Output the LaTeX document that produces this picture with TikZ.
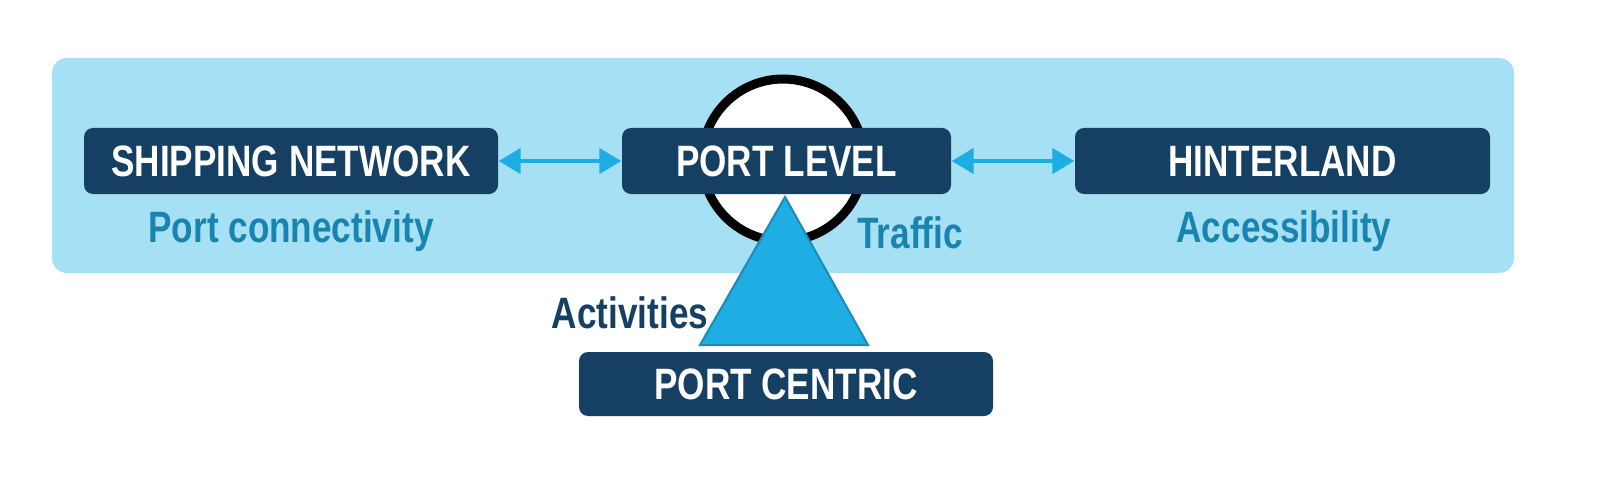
\documentclass[tikz,border=0pt]{standalone}
\usepackage{fontspec}
\setmainfont{Liberation Sans}[FakeStretch=0.8]
\usepackage{tikz}
\usetikzlibrary{arrows.meta}
\definecolor{bgblue}{HTML}{A6E0F5}
\definecolor{navy}{HTML}{153F63}
\definecolor{arrowblue}{HTML}{1DACE4}
\definecolor{labelblue}{HTML}{1A84B0}
\definecolor{triblue}{HTML}{1EAEE3}
\definecolor{triedge}{HTML}{1B8BB8}
\begin{document}
\begin{tikzpicture}[
    level/.style={fill=navy, rounded corners=0.09cm, text=white, font=\bfseries\fontsize{12.5}{14}\selectfont,
      minimum height=0.66cm, inner sep=0pt},
    aspect/.style={text=labelblue, font=\bfseries\fontsize{12.5}{14}\selectfont, inner sep=0pt},
    link/.style={arrowblue, line width=0.045cm, {Triangle[length=0.22cm,width=0.25cm]}-{Triangle[length=0.22cm,width=0.25cm]}}
  ]
  \useasboundingbox (0,0) rectangle (16,4.79);
  \fill[bgblue, rounded corners=0.15cm] (0.52,2.06) rectangle (15.14,4.21);
  \draw[line width=0.09cm, fill=white] (7.83,3.19) circle (0.81);
  \node[level, minimum width=4.14cm] (ship) at (2.91,3.18) {SHIPPING NETWORK};
  \node[level, minimum width=3.29cm] (port) at (7.865,3.18) {PORT LEVEL};
  \node[level, minimum width=4.15cm] (hinter) at (12.825,3.18) {HINTERLAND};
  \node[level, minimum width=4.14cm, minimum height=0.64cm] (centric) at (7.86,0.95) {PORT CENTRIC};
  \draw[link] (ship) -- (port);
  \draw[link] (port) -- (hinter);
  \draw[fill=triblue, draw=triedge, line width=0.02cm] (7.85,2.82) -- (8.68,1.34) -- (7.00,1.34) -- cycle;
  \node[aspect] (conn) at (2.91,2.48) {Port connectivity};
  \node[aspect] (traffic) at (9.10,2.46) {Traffic};
  \node[aspect] (access) at (12.84,2.48) {Accessibility};
  \node[aspect, text=navy] (activ) at (6.30,1.66) {Activities};
\end{tikzpicture}
\end{document}
